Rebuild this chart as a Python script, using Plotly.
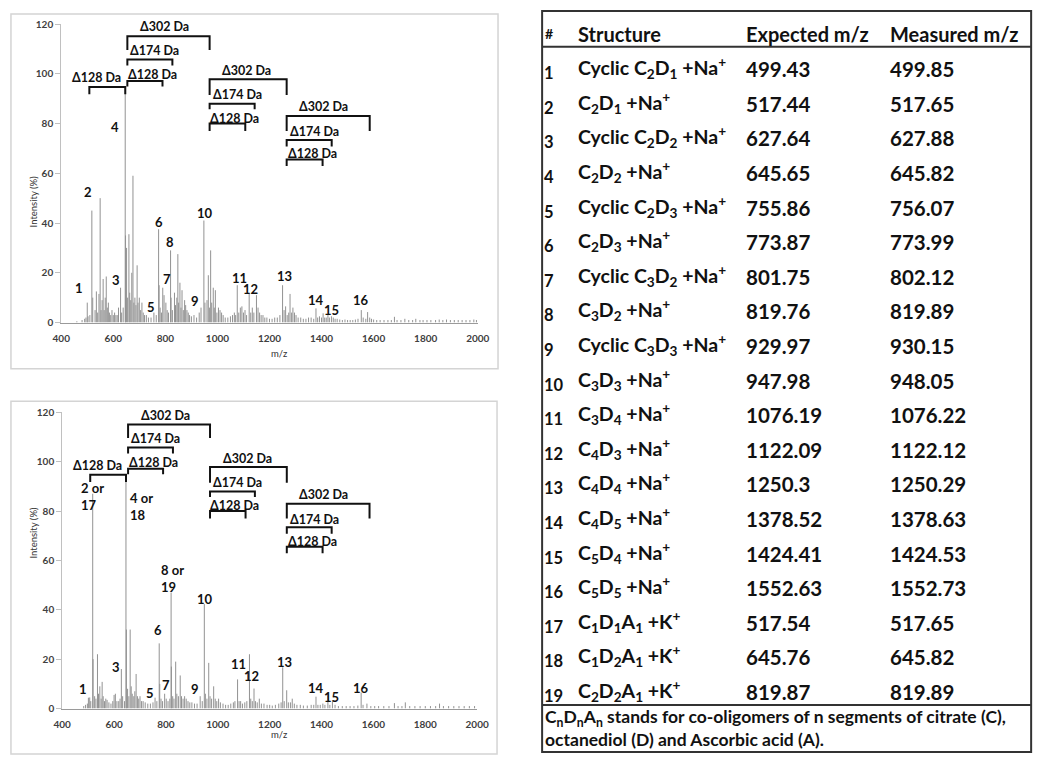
import plotly.graph_objects as go

W, H = 1050, 763


def px(x):
    return x / W


def py(y):
    return 1 - y / H


# ---------------- spectrum data (m/z, intensity %) ----------------
top_mz = [460, 480, 490, 495, 500, 503, 510, 517.6, 521, 530, 535, 540, 545, 549.5, 553, 557, 561, 565, 569, 573,
          577, 581, 585, 590, 595, 600, 605, 610, 615, 620, 627.9, 632, 638, 645.8, 647, 651, 655, 660, 663, 667,
          671, 675.5, 679, 683, 687, 691.5, 695, 700, 705, 710, 715, 720, 727, 735, 745, 756, 765, 774, 776, 780,
          785, 790, 795, 802, 807, 812, 820, 822, 827, 835, 839, 844, 848, 851, 856, 860, 864, 869, 874, 878,
          883, 888, 893, 900, 910, 920, 930, 937, 948, 952, 960, 965, 970, 974, 978, 984, 988, 992, 998, 1004,
          1010, 1016, 1022, 1030, 1040, 1050, 1058, 1065, 1070, 1076.2, 1082, 1088, 1094, 1100, 1106, 1112, 1122, 1128, 1134, 1140,
          1150, 1156, 1162, 1168, 1175, 1182, 1190, 1200, 1210, 1220, 1230, 1240, 1250.3, 1256, 1262, 1268, 1274, 1279, 1285, 1290,
          1296, 1302, 1310, 1320, 1330, 1340, 1350, 1360, 1370, 1378.6, 1385, 1392, 1400, 1406, 1412, 1418, 1424.5, 1430, 1438, 1445,
          1452, 1460, 1470, 1480, 1490, 1500, 1510, 1520, 1530, 1540, 1552.7, 1560, 1570, 1577, 1585, 1592, 1600, 1612, 1625, 1640,
          1655, 1668, 1680, 1690, 1705, 1720, 1735, 1750, 1762, 1778, 1790, 1805, 1820, 1838, 1852, 1866, 1880, 1895, 1910, 1925,
          1940, 1955, 1970, 1985, 1995]
top_int = [0.5, 1, 1.5, 2, 8, 2.5, 3, 45, 10, 5, 12.5, 4, 11.5, 50, 5, 9, 17.5, 5, 10, 18.5,
           6, 8, 4, 3, 5, 3, 4, 3, 3, 6, 14, 4, 6, 95, 35, 30, 10, 35.5, 12, 9,
           20, 59, 8, 10, 7, 23, 8, 10, 5, 8, 4, 3, 3, 2, 2, 4, 3, 37.5, 15, 6,
           4, 14, 11, 8, 5, 4, 29, 10, 5, 12, 7, 10, 27.5, 8, 16, 6, 13, 5, 9, 7,
           5, 4, 3, 2.5, 3, 2, 4, 6, 41, 8, 9, 19, 6, 29, 8, 14, 6, 13, 4, 6,
           5, 4, 3, 2, 2, 2.5, 3, 4, 3, 15, 4, 6, 6.5, 4, 5, 3, 11.5, 4, 6, 4,
           11, 6, 4, 3, 3, 2, 2, 1.5, 1.5, 2, 2, 3, 15, 5, 6.5, 3, 4, 11.5, 4, 6,
           4, 3, 2, 2, 1.5, 1.5, 2, 2, 1.5, 5.7, 2, 2.5, 2, 3.7, 2, 2, 3, 2, 2.5, 2,
           1.5, 1.5, 1.2, 1, 1.2, 1, 1, 1, 1.2, 1.5, 5, 2, 1.5, 4.2, 2, 1.5, 1.2, 1, 1, 1,
           1, 1, 2.3, 1, 1, 1.5, 1, 1, 1.5, 1, 1, 1, 1, 1, 1.2, 1, 1.2, 1, 1, 1,
           1, 1, 1, 1.2, 1]

bot_mz = [483, 490, 497, 501, 506, 510, 517.6, 519, 525, 530, 536, 540, 545, 550, 554, 558, 563, 568, 573, 580,
          588, 595, 600, 605, 611, 618, 623, 628, 633, 640, 645.8, 647.5, 652, 657, 662, 666, 670, 676, 680, 685,
          690, 695, 700, 706, 712, 720, 730, 740, 750, 758, 765, 774, 776, 781, 787, 795, 801, 808, 815, 819.9,
          821, 826, 831, 837.5, 842, 848, 855, 860, 866, 872, 878, 885, 892, 900, 910, 920, 932, 940, 948, 952,
          958, 965, 970, 976, 984, 990, 996, 1003, 1010, 1020, 1030, 1040, 1050, 1060, 1066, 1076.2, 1082, 1088, 1095, 1104,
          1112, 1122, 1127, 1133, 1139.6, 1145, 1152, 1160, 1168, 1178, 1190, 1200, 1210, 1222, 1235, 1244, 1250.3, 1256, 1265.6, 1272,
          1280, 1287, 1295, 1305, 1318, 1330, 1345, 1360, 1370, 1378.6, 1386, 1395, 1405, 1413, 1424.5, 1432, 1442, 1452, 1465, 1480,
          1495, 1510, 1525, 1540, 1552.7, 1560, 1575, 1590, 1605, 1620, 1640, 1660, 1681, 1695, 1710, 1723, 1740, 1760, 1780, 1800,
          1820, 1840, 1855, 1870, 1890, 1910, 1930, 1950, 1970, 1990]
bot_int = [1, 1.5, 2, 4.4, 4.5, 3, 87, 20, 5, 4, 22, 6, 9, 4, 10.8, 5, 3, 4, 3.5, 2.5,
           2, 3, 5.5, 6, 3, 3, 4, 16, 5, 3, 95, 32, 8, 5, 32, 9, 6, 5, 7, 14,
           5, 4, 5, 3, 3, 2.5, 2, 2, 2.5, 4.4, 3, 26.4, 10, 4, 3, 6, 4, 3, 4, 47,
           17, 5, 4, 19, 6, 5, 13.4, 5, 4, 5, 4, 3, 2.5, 2.5, 2, 2, 5, 3, 42.3, 6,
           4, 18.5, 5, 4, 9, 4, 3, 4, 2.5, 2, 1.5, 1.5, 2, 2.5, 3, 11.8, 3, 3, 2, 2.5,
           3, 22, 4, 3, 8.1, 3, 2.5, 4, 2, 2, 1.5, 1.5, 1.2, 1.5, 2, 2.5, 16.7, 3, 7.4, 2.5,
           2.5, 4, 2, 1.5, 1.5, 1.2, 1.2, 1.5, 1.5, 4.8, 1.5, 1.5, 2, 1.5, 5.4, 1.5, 3, 1.5, 1, 1,
           1, 1, 1, 1.2, 6.5, 1.5, 2, 1, 1, 1, 1, 1, 2.2, 1, 1, 2.5, 1, 1, 1, 1,
           1, 1, 2, 1, 1, 1, 1, 1, 1, 1]

# peak labels
top_lab_text = ["1", "2", "3", "4", "5", "6", "7", "8", "9", "10", "11", "12", "13", "14", "15", "16"]
top_lab_mz = [469, 503, 611, 608, 744, 774, 806, 819, 913, 953, 1084, 1128, 1256, 1379, 1438, 1552]
top_lab_y = [13.8, 52.4, 17.1, 78.7, 6.3, 40.5, 17.5, 32.2, 8.6, 44.1, 18.0, 13.5, 18.8, 9.0, 5.0, 9.0]

bot_lab_text = ["1", "2 or<br>17", "3", "4 or<br>18", "5", "6", "7", "8 or<br>19", "9", "10", "11", "12", "13", "14", "15", "16"]
bot_lab_mz = [482, 463, 608, 653, 740, 769, 802, 772, 912, 952, 1080, 1130, 1256, 1379, 1438, 1553]
bot_lab_y = [8.1, 85.9, 17.0, 81.8, 6.1, 31.7, 9.7, 52.7, 8.1, 44.2, 18.2, 13.0, 18.7, 8.5, 4.8, 8.5]

# brackets (mass differences)
br_text = ["Δ128 Da", "Δ302 Da", "Δ174 Da", "Δ128 Da", "Δ302 Da", "Δ174 Da", "Δ128 Da", "Δ302 Da", "Δ174 Da", "Δ128 Da"]
br_start = [508, 654, 654, 654, 970, 970, 970, 1266, 1266, 1266]
br_end = [646, 970, 827, 789, 1266, 1143, 1107, 1585, 1439, 1404]
br_level = [94.7, 115.1, 105.7, 97.1, 97.8, 87.9, 80.0, 83.0, 73.4, 65.5]
br_foot = [91.8, 109.6, 103.3, 94.9, 91.5, 85.7, 77.0, 77.0, 70.8, 62.9]
br_lab_mz = [535, 798, 758, 752, 1113, 1076, 1065, 1408, 1373, 1364]
br_lab_y = [98.3, 118.8, 109.2, 99.7, 101.3, 91.5, 82.2, 86.8, 76.7, 67.8]

x_ticks = [400, 600, 800, 1000, 1200, 1400, 1600, 1800, 2000]
y_ticks = [0, 20, 40, 60, 80, 100, 120]

# ---------------- table data ----------------
tbl_ids = [str(i) for i in range(1, 20)]
tbl_struct = [
    "Cyclic C<sub>2</sub>D<sub>1</sub> +Na<sup>+</sup>",
    "C<sub>2</sub>D<sub>1</sub> +Na<sup>+</sup>",
    "Cyclic C<sub>2</sub>D<sub>2</sub> +Na<sup>+</sup>",
    "C<sub>2</sub>D<sub>2</sub> +Na<sup>+</sup>",
    "Cyclic C<sub>2</sub>D<sub>3</sub> +Na<sup>+</sup>",
    "C<sub>2</sub>D<sub>3</sub> +Na<sup>+</sup>",
    "Cyclic C<sub>3</sub>D<sub>2</sub> +Na<sup>+</sup>",
    "C<sub>3</sub>D<sub>2</sub> +Na<sup>+</sup>",
    "Cyclic C<sub>3</sub>D<sub>3</sub> +Na<sup>+</sup>",
    "C<sub>3</sub>D<sub>3</sub> +Na<sup>+</sup>",
    "C<sub>3</sub>D<sub>4</sub> +Na<sup>+</sup>",
    "C<sub>4</sub>D<sub>3</sub> +Na<sup>+</sup>",
    "C<sub>4</sub>D<sub>4</sub> +Na<sup>+</sup>",
    "C<sub>4</sub>D<sub>5</sub> +Na<sup>+</sup>",
    "C<sub>5</sub>D<sub>4</sub> +Na<sup>+</sup>",
    "C<sub>5</sub>D<sub>5</sub> +Na<sup>+</sup>",
    "C<sub>1</sub>D<sub>1</sub>A<sub>1</sub> +K<sup>+</sup>",
    "C<sub>1</sub>D<sub>2</sub>A<sub>1</sub> +K<sup>+</sup>",
    "C<sub>2</sub>D<sub>2</sub>A<sub>1</sub> +K<sup>+</sup>",
]
tbl_expected = ["499.43", "517.44", "627.64", "645.65", "755.86", "773.87", "801.75", "819.76", "929.97", "947.98",
                "1076.19", "1122.09", "1250.3", "1378.52", "1424.41", "1552.63", "517.54", "645.76", "819.87"]
tbl_measured = ["499.85", "517.65", "627.88", "645.82", "756.07", "773.99", "802.12", "819.89", "930.15", "948.05",
                "1076.22", "1122.12", "1250.29", "1378.63", "1424.53", "1552.73", "517.65", "645.82", "819.89"]
tbl_header = ["#", "Structure", "Expected m/z", "Measured m/z"]
tbl_note = ("C<sub>n</sub>D<sub>n</sub>A<sub>n</sub> stands for co-oligomers of n segments of citrate (C),"
            "<br>octanediol (D) and Ascorbic acid (A).")

FONT = "Lato"
fig = go.Figure()


def sticks(mz, inten):
    xs, ys = [], []
    for m, v in zip(mz, inten):
        xs += [m, m, None]
        ys += [0, v, None]
    return xs, ys


def bracket_path():
    xs, ys = [], []
    for s, e, lv, ft in zip(br_start, br_end, br_level, br_foot):
        xs += [s, s, e, e, None]
        ys += [ft, lv, lv, ft, None]
    return xs, ys


panels = [
    dict(xa="x", ya="y", mz=top_mz, it=top_int, lt=top_lab_text, lx=top_lab_mz, ly=top_lab_y),
    dict(xa="x2", ya="y2", mz=bot_mz, it=bot_int, lt=bot_lab_text, lx=bot_lab_mz, ly=bot_lab_y),
]

annotations = []
for p in panels:
    xs, ys = sticks(p["mz"], p["it"])
    fig.add_trace(go.Scatter(x=xs, y=ys, mode="lines", line=dict(color="#929292", width=1),
                             xaxis=p["xa"], yaxis=p["ya"], hoverinfo="skip", showlegend=False))
    bx, by = bracket_path()
    fig.add_trace(go.Scatter(x=bx, y=by, mode="lines", line=dict(color="#111111", width=2),
                             xaxis=p["xa"], yaxis=p["ya"], hoverinfo="skip", showlegend=False))
    for t, x, y in zip(br_text, br_lab_mz, br_lab_y):
        annotations.append(dict(x=x, y=y, xref=p["xa"], yref=p["ya"], text=t, showarrow=False,
                                font=dict(family=FONT, size=12.5, color="#111111", weight="bold")))
    for t, x, y in zip(p["lt"], p["lx"], p["ly"]):
        multi = "<br>" in t
        annotations.append(dict(x=x, y=y, xref=p["xa"], yref=p["ya"], text=t, showarrow=False,
                                align="left", xanchor="left" if multi else "center",
                                font=dict(family=FONT, size=13, color="#111111", weight="bold")))

# axis titles
for ytitle, xtitle_y in [((17.3 + 321) / 2, 353), ((412.3 + 713.7) / 2, 748)]:
    annotations.append(dict(x=px(17), y=py(ytitle), xref="paper", yref="paper", text="Intensity (%)",
                            textangle=-90, showarrow=False, font=dict(family=FONT, size=9.5, color="#333333")))
    annotations.append(dict(x=px(265), y=py(xtitle_y), xref="paper", yref="paper", text="m/z",
                            showarrow=False, font=dict(family=FONT, size=9.5, color="#333333")))

# table text
col_x = [545, 579, 750, 897]
hdr_y = 27
for t, x in zip(tbl_header, col_x):
    annotations.append(dict(x=px(x), y=py(hdr_y), xref="paper", yref="paper", text=t, showarrow=False,
                            xanchor="left", yanchor="middle",
                            font=dict(family=FONT, size=20 if t != "#" else 14, color="#111111", weight="bold")))
for i, (rid, st, ex, me) in enumerate(zip(tbl_ids, tbl_struct, tbl_expected, tbl_measured)):
    yc = 63.3 + i * 35.2
    annotations.append(dict(x=px(544), y=py(yc + 4), xref="paper", yref="paper", text=rid, showarrow=False,
                            xanchor="left", yanchor="middle",
                            font=dict(family=FONT, size=16.5, color="#111111", weight="bold")))
    annotations.append(dict(x=px(579), y=py(yc - 1), xref="paper", yref="paper", text=st, showarrow=False,
                            xanchor="left", yanchor="middle",
                            font=dict(family=FONT, size=19.5, color="#111111", weight="bold")))
    annotations.append(dict(x=px(750), y=py(yc), xref="paper", yref="paper", text=ex, showarrow=False,
                            xanchor="left", yanchor="middle",
                            font=dict(family=FONT, size=20.5, color="#111111", weight="bold")))
    annotations.append(dict(x=px(897), y=py(yc), xref="paper", yref="paper", text=me, showarrow=False,
                            xanchor="left", yanchor="middle",
                            font=dict(family=FONT, size=20.5, color="#111111", weight="bold")))
annotations.append(dict(x=px(545), y=py(733), xref="paper", yref="paper", text=tbl_note, showarrow=False,
                        xanchor="left", yanchor="middle", align="left",
                        font=dict(family=FONT, size=17.5, color="#111111", weight="bold")))

shapes = [
    dict(type="rect", xref="paper", yref="paper", x0=px(2), x1=px(499), y0=py(368), y1=py(7),
         line=dict(color="#d4d4d4", width=1.5)),
    dict(type="rect", xref="paper", yref="paper", x0=px(2), x1=px(498), y0=py(760), y1=py(401),
         line=dict(color="#d4d4d4", width=1.5)),
    dict(type="rect", xref="paper", yref="paper", x0=px(544), x1=px(1043), y0=py(758), y1=py(4),
         line=dict(color="#333333", width=2)),
    dict(type="line", xref="paper", yref="paper", x0=px(544), x1=px(1043), y0=py(40.5), y1=py(40.5),
         line=dict(color="#333333", width=2)),
    dict(type="line", xref="paper", yref="paper", x0=px(544), x1=px(1043), y0=py(710), y1=py(710),
         line=dict(color="#333333", width=2)),
]

xaxis_common = dict(range=[400, 2000], tickvals=x_ticks, showgrid=False, zeroline=False, showline=True,
                    linecolor="#9a9a9a", linewidth=1, ticks="outside", ticklen=6, tickcolor="rgba(0,0,0,0)",
                    tickfont=dict(family=FONT, size=10, color="#404040", weight="bold"), fixedrange=True)
yaxis_common = dict(range=[0, 120], tickvals=y_ticks, showgrid=False, zeroline=False, showline=True,
                    linecolor="#c0c0c0", linewidth=1, ticks="outside", ticklen=5, tickcolor="#c0c0c0",
                    tickfont=dict(family=FONT, size=10, color="#404040", weight="bold"), fixedrange=True)

fig.update_layout(
    width=W, height=H, margin=dict(l=0, r=0, t=0, b=0),
    paper_bgcolor="white", plot_bgcolor="white", showlegend=False,
    xaxis=dict(domain=[px(53.3), px(478.3)], anchor="y", **xaxis_common),
    yaxis=dict(domain=[py(321), py(17.3)], anchor="x", **yaxis_common),
    xaxis2=dict(domain=[px(54.3), px(477.7)], anchor="y2", **xaxis_common),
    yaxis2=dict(domain=[py(713.7), py(412.3)], anchor="x2", **yaxis_common),
    annotations=annotations, shapes=shapes,
)

fig.write_html("out.html", config={"displayModeBar": False},
               post_script="document.body.style.margin='0';document.body.style.overflow='hidden';")
